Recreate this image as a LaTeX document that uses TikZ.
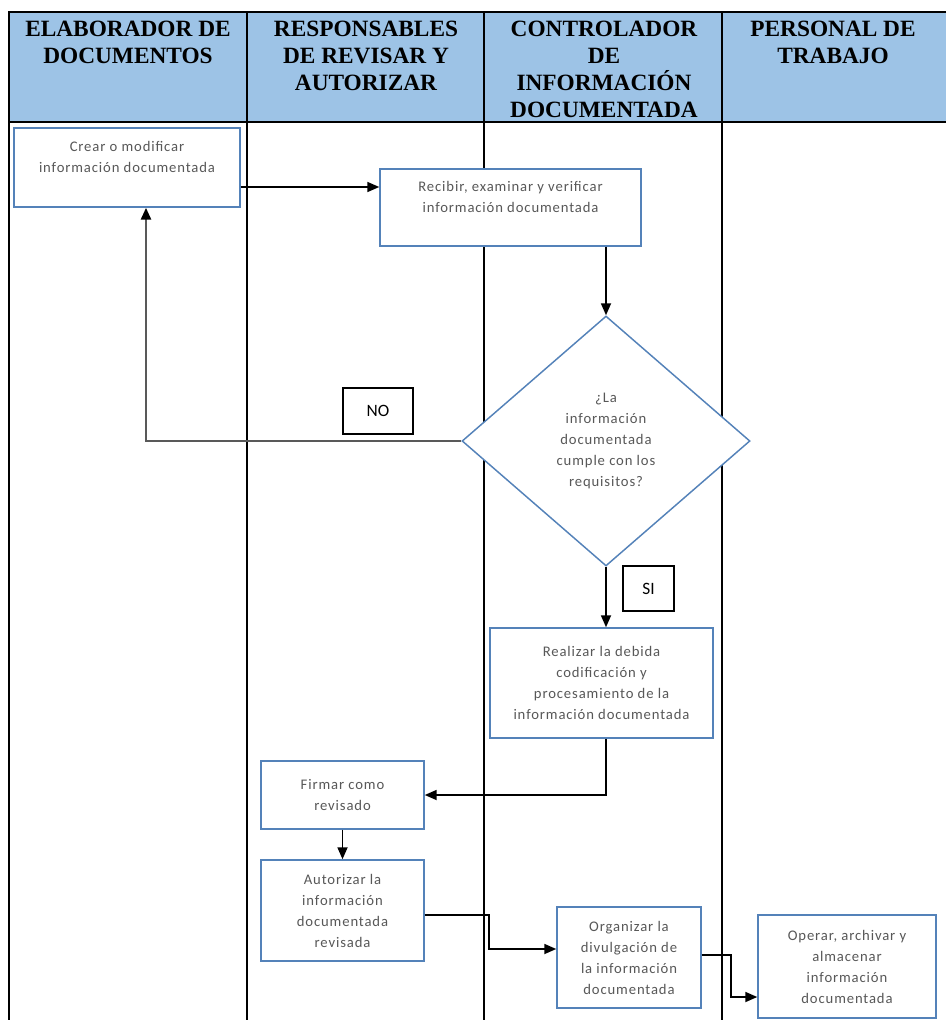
\documentclass[tikz,border=0pt]{standalone}
\usepackage{fontspec}
\setmainfont{Carlito}
\newfontfamily\stepfont[LetterSpace=6]{Carlito}
\newfontfamily\headfont{Liberation Serif}
\usetikzlibrary{shapes.geometric,arrows.meta}
\definecolor{headblue}{RGB}{157,195,230}
\definecolor{boxblue}{RGB}{84,130,185}
\definecolor{txtgray}{RGB}{88,88,88}
\begin{document}
\begin{tikzpicture}[x=0.75pt,y=-0.75pt,
  lane/.style={line width=1.5pt, draw=black},
  head/.style={font=\headfont\bfseries\fontsize{17.5pt}{20.25pt}\selectfont,
    align=center, anchor=north, inner sep=0pt, text=black},
  stepbox/.style={draw=boxblue, line width=1.1pt, fill=white,
    font=\stepfont\fontsize{11pt}{15.75pt}\selectfont, text=txtgray, align=center, inner sep=2pt},
  decision/.style={diamond, draw=boxblue, line width=1.1pt, fill=white,
    font=\stepfont\fontsize{11pt}{15.75pt}\selectfont, text=txtgray, align=center, inner sep=0pt},
  tag/.style={draw=black, line width=1.1pt, fill=white,
    font=\fontsize{13pt}{15pt}\selectfont, inner sep=0pt},
  arr/.style={line width=1.3pt, -{Triangle[length=9pt,width=7.5pt]}},
  arrg/.style={line width=2pt, draw=black!65,
    -{Triangle[length=9pt,width=7.5pt,fill=black,color=black]}},
]
\useasboundingbox (0,0) rectangle (946,1020);

% header band
\fill[headblue] (9,12) rectangle (946,122);
\draw[lane] (946,12) -- (9,12) -- (9,1020);
\draw[lane] (9,122) -- (946,122);
\draw[lane] (247,12) -- (247,1020);
\draw[lane] (484,12) -- (484,1020);
\draw[lane] (722,12) -- (722,1020);

\node[head] (h1) at (128,20.5) {ELABORADOR DE\\DOCUMENTOS};
\node[head] (h2) at (366,20.5) {RESPONSABLES\\DE REVISAR Y\\AUTORIZAR};
\node[head] (h3) at (604,20.5) {CONTROLADOR\\DE\\INFORMACIÓN\\DOCUMENTADA};
\node[head] (h4) at (833,20.5) {PERSONAL DE\\TRABAJO};

% process steps
\node[stepbox, minimum width=169.5pt, minimum height=59.25pt] (b1) at (127,167.5)
  {Crear o modificar\\información documentada\\\mbox{}};
\node[stepbox, minimum width=195.75pt, minimum height=57.75pt] (b2) at (510.5,207.5)
  {Recibir, examinar y verificar\\información documentada\\\mbox{}};
\node[decision, minimum width=216pt, minimum height=187.5pt] (dec) at (606,441)
  {¿La\\información\\documentada\\cumple con los\\requisitos?};
\node[stepbox, minimum width=167.25pt, minimum height=82.5pt] (b3) at (601.5,683)
  {Realizar la debida\\codificación y\\procesamiento de la\\información documentada};
\node[stepbox, minimum width=122.25pt, minimum height=51pt] (b4) at (342.5,795)
  {Firmar como\\revisado};
\node[stepbox, minimum width=122.25pt, minimum height=75.75pt] (b5) at (342.5,910.5)
  {Autorizar la\\información\\documentada\\revisada};
\node[stepbox, minimum width=108pt, minimum height=75.75pt] (b6) at (629,957.5)
  {Organizar la\\divulgación de\\la información\\documentada};
\node[stepbox, minimum width=133.5pt, minimum height=77.25pt] (b7) at (847,966.5)
  {Operar, archivar y\\almacenar\\información\\documentada};

% answer tags
\node[tag, minimum width=52.5pt, minimum height=34.5pt] (no) at (378,411) {NO};
\node[tag, minimum width=38.25pt, minimum height=33.75pt] (si) at (648.5,588.5) {SI};

% routing points
\coordinate (r1) at (0,187);
\coordinate (r2) at (146,0);
\coordinate (k1) at (489,915);
\coordinate (k2) at (489,949);
\coordinate (m1) at (731,955);
\coordinate (m2) at (731,997);

% connectors
\draw[arr] (b1.east |- r1) -- (b2.west |- r1);
\draw[arr] (dec.north |- b2.south) -- (dec.north);
\draw[arrg] (dec.west) -| (r2 |- b1.south);
\draw[arr] (dec.south) -- (dec.south |- b3.north);
\draw[arr] (dec.south |- b3.south) |- (b4.east);
\draw[arr] (b4.south) -- (b5.north);
\draw[arr] (b5.east |- k1) -- (k1) -- (k2) -- (b6.west |- k2);
\draw[arr] (b6.east |- m1) -- (m1) -- (m2) -- (b7.west |- m2);
\end{tikzpicture}
\end{document}
